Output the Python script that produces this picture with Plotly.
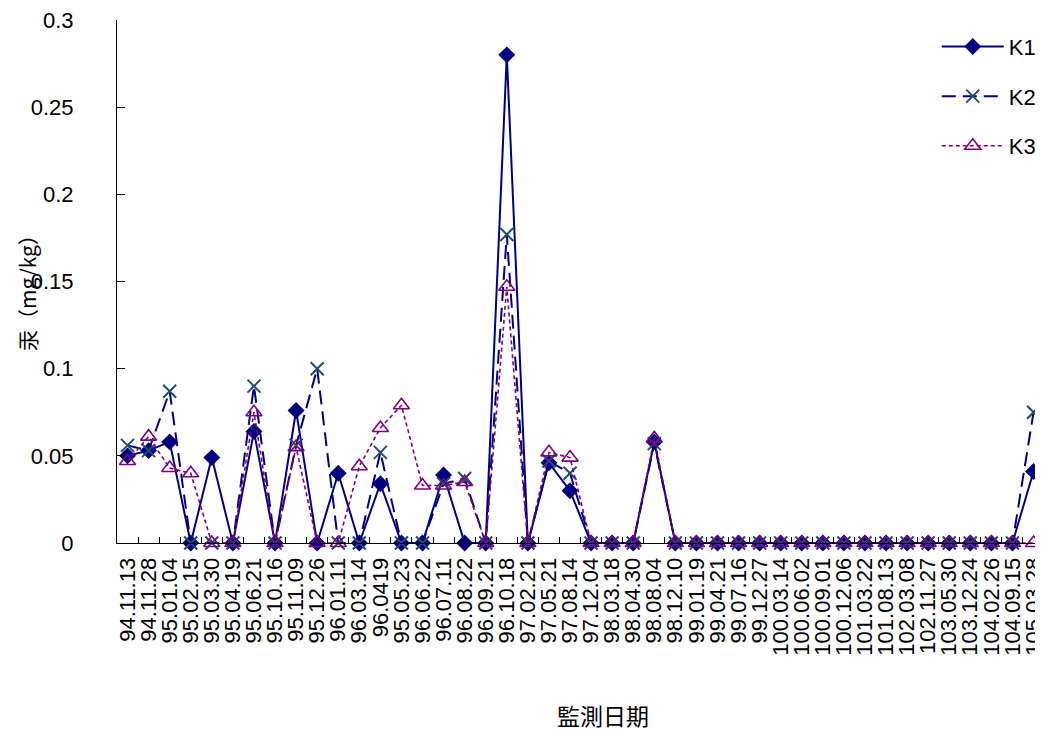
import plotly.graph_objects as go

dates = ["94.11.13", "94.11.28", "95.01.04", "95.02.15", "95.03.30", "95.04.19",
         "95.06.21", "95.10.16", "95.11.09", "95.12.26", "96.01.11", "96.03.14",
         "96.0419", "95.05.23", "96.06.22", "96.07.11", "96.08.22", "96.09.21",
         "96.10.18", "97.02.21", "97.05.21", "97.08.14", "97.12.04", "98.03.18",
         "98.04.30", "98.08.04", "98.12.10", "99.01.19", "99.04.21", "99.07.16",
         "99.12.27", "100.03.14", "100.06.02", "100.09.01", "100.12.06", "101.03.22",
         "101.08.13", "102.03.08", "102.11.27", "103.05.30", "103.12.24", "104.02.26",
         "104.09.15", "105.03.28"]

k1 = [0.050, 0.053, 0.058, 0, 0.049, 0, 0.064, 0, 0.076, 0, 0.040, 0,
      0.034, 0, 0, 0.039, 0, 0, 0.280, 0, 0.046, 0.030, 0, 0,
      0, 0.058, 0, 0, 0, 0, 0, 0, 0, 0, 0, 0,
      0, 0, 0, 0, 0, 0, 0, 0.041]

k2 = [0.056, 0.053, 0.087, 0, 0, 0, 0.090, 0, 0.056, 0.100, 0, 0,
      0.052, 0, 0, 0.034, 0.037, 0, 0.177, 0, 0.047, 0.040, 0, 0,
      0, 0.057, 0, 0, 0, 0, 0, 0, 0, 0, 0, 0,
      0, 0, 0, 0, 0, 0, 0, 0.075]

k3 = [0.047, 0.061, 0.043, 0.040, 0, 0, 0.075, 0, 0.055, 0, 0, 0.044,
      0.066, 0.079, 0.033, 0.033, 0.035, 0, 0.147, 0, 0.052, 0.049, 0, 0,
      0, 0.060, 0, 0, 0, 0, 0, 0, 0, 0, 0, 0,
      0, 0, 0, 0, 0, 0, 0, 0]

y_ticks = [0, 0.05, 0.1, 0.15, 0.2, 0.25, 0.3]
y_labels = ["0", "0.05", "0.1", "0.15", "0.2", "0.25", "0.3"]

fig = go.Figure()
fig.add_trace(go.Scatter(
    x=dates, y=k1, name="K1", mode="lines+markers", legendgroup="a",
    line=dict(color="#000080", width=2),
    marker=dict(symbol="diamond", size=13, color="#000080"),
    cliponaxis=False))
fig.add_trace(go.Scatter(
    x=dates, y=k2, name="K2", mode="lines+markers", legendgroup="b",
    line=dict(color="#000080", width=2, dash="14px,7px"),
    marker=dict(symbol="x-thin", size=13, color="#1F4E6E",
                line=dict(width=2, color="#1F4E6E")),
    cliponaxis=False))
fig.add_trace(go.Scatter(
    x=dates, y=k3, name="K3", mode="lines+markers", legendgroup="c",
    line=dict(color="#800080", width=1.6, dash="4px,3px"),
    marker=dict(symbol="triangle-up-open", size=14, color="#800080",
                line=dict(width=1.6, color="#800080")),
    cliponaxis=False))

fig.update_layout(
    width=1027, height=723,
    margin=dict(l=109, r=0, t=12, b=188, autoexpand=False),
    paper_bgcolor="white", plot_bgcolor="white",
    font=dict(family="Arial, Liberation Sans, sans-serif", color="black"),
    showlegend=True,
    legend=dict(x=0.893, y=0.989, xanchor="left", yanchor="top",
                font=dict(size=22, family="Arial, Liberation Sans, sans-serif"),
                tracegroupgap=18, traceorder="grouped",
                bgcolor="rgba(255,255,255,0)", itemwidth=62),
    xaxis=dict(
        type="category", range=[-0.5, 43.07],
        tickmode="array", tickvals=dates, ticktext=dates,
        showline=True, linecolor="black", linewidth=1,
        ticks="inside", ticklen=6, tickcolor="black", tickson="boundaries",
        tickangle=-90, tickfont=dict(size=22),
        ticklabelstandoff=5, automargin=False, ticklabeloverflow="allow",
        showgrid=False, zeroline=False),
    yaxis=dict(
        range=[0, 0.3], tickvals=y_ticks, ticktext=y_labels,
        showline=True, linecolor="black", linewidth=1,
        ticks="inside", ticklen=8, tickcolor="black",
        tickfont=dict(size=22), ticklabelstandoff=38, automargin=False,
        ticklabeloverflow="allow",
        showgrid=False, zeroline=False),
    annotations=[
        dict(text="汞（mg/kg）", textangle=-90, xref="paper", yref="paper",
             x=(27 - 117) / 918, y=(543 - 288) / 523, xanchor="center", yanchor="middle",
             showarrow=False, font=dict(size=21, family="Noto Sans CJK TC")),
        dict(text="監測日期", xref="paper", yref="paper",
             x=(603 - 117) / 918, y=(543 - 715) / 523, xanchor="center", yanchor="middle",
             showarrow=False, font=dict(size=23, family="Noto Sans CJK TC")),
    ],
)

fig.write_html("out.html")
